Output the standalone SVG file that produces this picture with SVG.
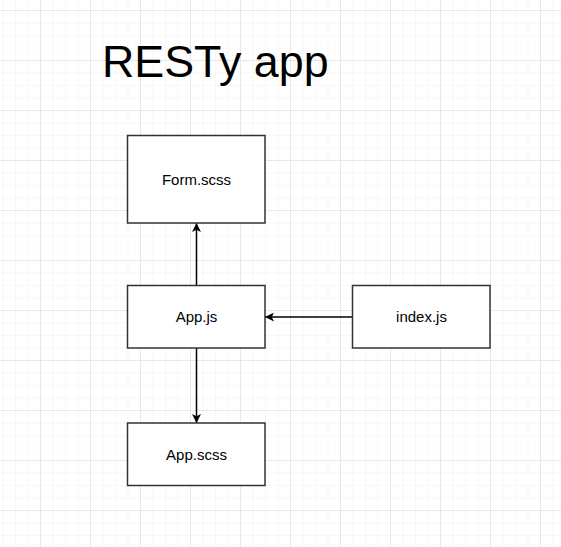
<svg xmlns="http://www.w3.org/2000/svg" width="561" height="547" viewBox="0 0 561 547">
<defs>
<pattern id="minor" x="2.5" y="10" width="12.5" height="12.5" patternUnits="userSpaceOnUse">
<path d="M12.5 0H0V12.5" fill="none" stroke="#f0f0f0" stroke-width="1"/>
</pattern>
<pattern id="major" x="40" y="10" width="50" height="50" patternUnits="userSpaceOnUse">
<path d="M50 0H0V50" fill="none" stroke="#dadada" stroke-width="1"/>
</pattern>
<marker id="arr" viewBox="0 0 10 10" refX="10" refY="5" markerWidth="10" markerHeight="9" markerUnits="userSpaceOnUse" orient="auto">
<path d="M0 0L10 5L0 10L2.5 5Z" fill="#000"/>
</marker>
</defs>
<style>
.box{fill:#fff;stroke:#333;stroke-width:1.5}
.lbl{font-family:"Liberation Sans",Arial,sans-serif;font-size:15px;fill:#000;text-anchor:middle}
.edge{stroke:#000;stroke-width:1.5;fill:none;marker-end:url(#arr)}
</style>
<rect width="561" height="547" fill="#fff"/>
<rect width="561" height="547" fill="url(#minor)"/>
<rect width="561" height="547" fill="url(#major)"/>
<text x="102" y="77" font-family="Liberation Sans,Arial,sans-serif" font-size="44.8" fill="#000">RESTy app</text>
<g id="connectors">
<path class="edge" d="M196.5 285.5V223"/>
<path class="edge" d="M196.5 348V423"/>
<path class="edge" d="M352.5 317H265"/>
</g>
<g id="form"><rect class="box" x="127.5" y="135.5" width="137.5" height="87.5"/><text class="lbl" x="196.5" y="184.5">Form.scss</text></g>
<g id="app"><rect class="box" x="127.5" y="285.5" width="137.5" height="62.5"/><text class="lbl" x="196.5" y="322">App.js</text></g>
<g id="index"><rect class="box" x="352.5" y="285.5" width="137.5" height="62.5"/><text class="lbl" x="421.5" y="322">index.js</text></g>
<g id="appscss"><rect class="box" x="127.5" y="423" width="137.5" height="62.5"/><text class="lbl" x="196.5" y="459.5">App.scss</text></g>
</svg>
